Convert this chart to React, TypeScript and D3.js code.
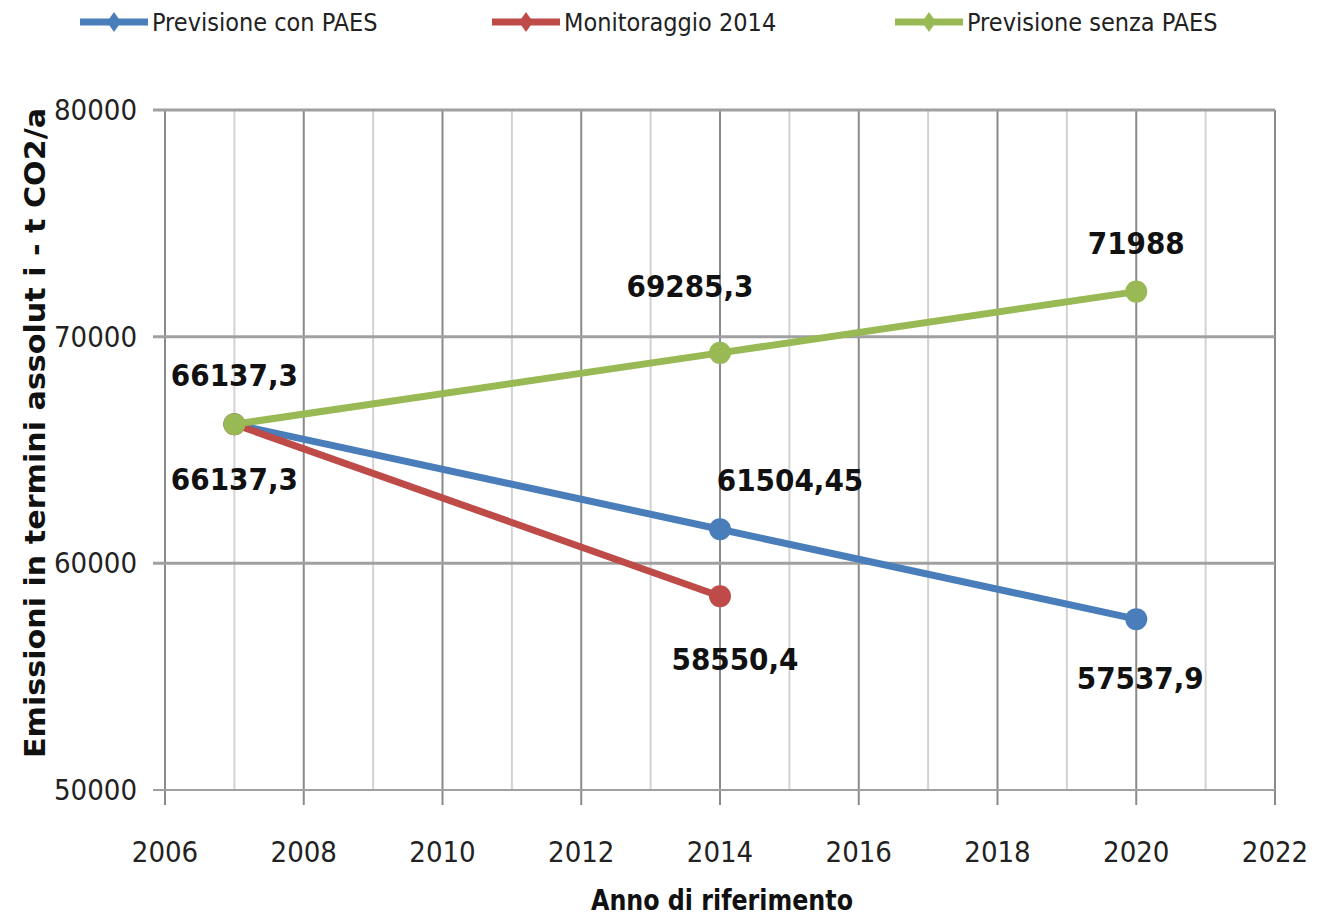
import React from 'react'
import * as d3 from 'd3'

const years = [2007, 2014, 2020]
const conPaes = [66137.3, 61504.45, 57537.9]
const monitoraggio = [66137.3, 58550.4]
const senzaPaes = [66137.3, 69285.3, 71988]
const seriesNames = ['Previsione con PAES', 'Monitoraggio 2014', 'Previsione senza PAES']
const seriesColors = ['#4a7ebb', '#be4b48', '#98b954']
const xTicks = [2006, 2008, 2010, 2012, 2014, 2016, 2018, 2020, 2022]
const yTicks = [50000, 60000, 70000, 80000]

// data label texts as printed in the chart (Italian decimal comma)
const fmt = (v: number) => String(v).replace('.', ',')

const W = 1322
const H = 917
const FONT = "'Liberation Sans Narrow', 'DejaVu Sans Condensed', 'Liberation Sans', sans-serif"

export default function App() {
    const x = d3.scaleLinear().domain([2006, 2022]).range([165, 1275])
    const y = d3.scaleLinear().domain([50000, 80000]).range([790, 110])
    const line = d3
        .line<[number, number]>()
        .x((d) => x(d[0]))
        .y((d) => y(d[1]))

    const series = [conPaes, monitoraggio, senzaPaes].map((vals, i) => ({
        name: seriesNames[i],
        color: seriesColors[i],
        points: vals.map((v, j) => [years[j], v] as [number, number])
    }))

    // label offsets (dx, dy) relative to each point: series index, point index
    const labelOffsets: [number, number, number, number][] = [
        [0, 0, 0, 66],
        [0, 1, 70, -38],
        [0, 2, 4, 70],
        [1, 1, 15, 74],
        [2, 0, 0, -38],
        [2, 1, -30, -56],
        [2, 2, 0, -38]
    ]

    const allYears = d3.range(2006, 2023)

    return (
        <svg width={W} height={H} style={{ position: 'absolute', left: 0, top: 0, background: '#fff' }}>
            {/* legend */}
            {series.map((s, i) => {
                const lx = [80, 492, 895][i]
                return (
                    <g key={s.name} transform={`translate(${lx},22)`}>
                        <line x1={0} x2={68} y1={0} y2={0} stroke={s.color} strokeWidth={7} />
                        <path d="M34,-10 L41,0 L34,10 L27,0 Z" fill={s.color} />
                        <text x={72} y={9} fontFamily={FONT} fontSize={25} fill="#222">
                            {s.name}
                        </text>
                    </g>
                )
            })}

            {/* vertical grid */}
            {allYears.map((yr) => {
                const major = yr % 2 === 0
                return (
                    <line
                        key={yr}
                        x1={x(yr)}
                        x2={x(yr)}
                        y1={y(80000)}
                        y2={major ? y(50000) + 15 : y(50000)}
                        stroke={major ? '#8a8a8a' : '#d2d2d2'}
                        strokeWidth={2}
                    />
                )
            })}

            {/* horizontal grid */}
            {yTicks.map((t) => (
                <line key={t} x1={x(2006) - 12} x2={x(2022)} y1={y(t)} y2={y(t)} stroke="#a0a0a0" strokeWidth={t === 50000 ? 2 : 3} />
            ))}

            {/* y tick labels */}
            {yTicks.map((t) => (
                <text key={t} x={137} y={y(t) + 10} textAnchor="end" fontFamily={FONT} fontSize={29} fill="#222">
                    {t}
                </text>
            ))}

            {/* x tick labels */}
            {xTicks.map((t) => (
                <text key={t} x={x(t)} y={862} textAnchor="middle" fontFamily={FONT} fontSize={29} fill="#222">
                    {t}
                </text>
            ))}

            {/* axis titles */}
            <text x={722} y={910} textAnchor="middle" fontFamily={FONT} fontSize={29} fontWeight="bold" fill="#111" textLength={262} lengthAdjust="spacingAndGlyphs">
                Anno di riferimento
            </text>
            <text
                transform="translate(45,433) rotate(-90)"
                textAnchor="middle"
                fontFamily={FONT}
                fontSize={29}
                fontWeight="bold"
                fill="#111"
                textLength={650}
                lengthAdjust="spacingAndGlyphs"
            >
                Emissioni in termini assolut i - t CO2/a
            </text>

            {/* series */}
            {series.map((s) => (
                <g key={s.name}>
                    <path d={line(s.points) || ''} fill="none" stroke={s.color} strokeWidth={7} strokeLinejoin="round" />
                    {s.points.map((p, j) => (
                        <circle key={j} cx={x(p[0])} cy={y(p[1])} r={11} fill={s.color} />
                    ))}
                </g>
            ))}

            {/* data labels */}
            {labelOffsets.map(([si, pi, dx, dy]) => {
                const p = series[si].points[pi]
                return (
                    <text
                        key={`${si}-${pi}`}
                        x={x(p[0]) + dx}
                        y={y(p[1]) + dy}
                        textAnchor="middle"
                        fontFamily={FONT}
                        fontSize={31}
                        fontWeight="bold"
                        fill="#111"
                    >
                        {fmt(p[1])}
                    </text>
                )
            })}
        </svg>
    )
}
